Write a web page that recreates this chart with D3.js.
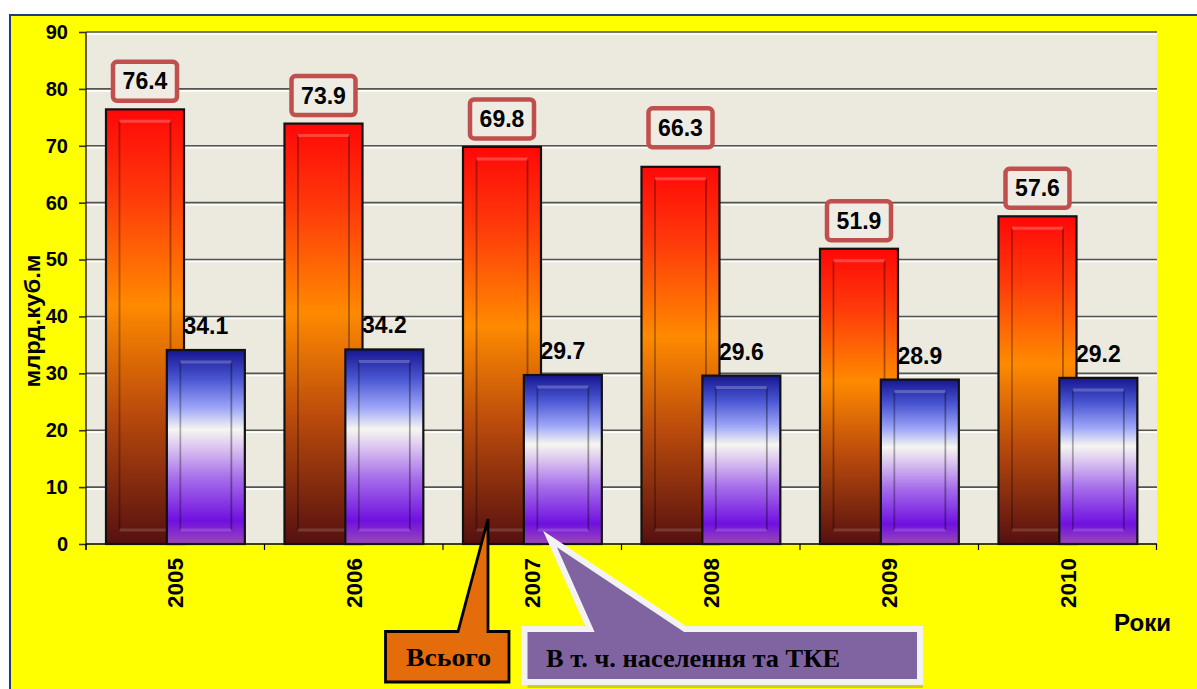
<!DOCTYPE html>
<html><head><meta charset="utf-8">
<script src="https://cdn.jsdelivr.net/npm/d3@7/dist/d3.min.js"></script>
<style>html,body{margin:0;padding:0;background:#fff;overflow:hidden}</style>
</head><body>
<svg id="chart" width="1197" height="689"></svg>
<script>
const years = ["2005","2006","2007","2008","2009","2010"];
const totalValues = [76.4, 73.9, 69.8, 66.3, 51.9, 57.6];
const populationValues = [34.1, 34.2, 29.7, 29.6, 28.9, 29.2];
const yTicks = [0,10,20,30,40,50,60,70,80,90];
const yTitle = "млрд.куб.м";
const xTitle = "Роки";
const calloutTotal = "Всього";
const calloutPop = "В т. ч. населення та ТКЕ";

const svg = d3.select("#chart");
const W = 1197, H = 689;
const plot = {l:86, r:1157, t:32, b:544};
const sans = "Arial, 'Liberation Sans', sans-serif";
const serif = "'Times New Roman', 'Liberation Serif', serif";

// gradients
const defs = svg.append("defs");
const gRed = defs.append("linearGradient").attr("id","gRed").attr("x1",0).attr("y1",0).attr("x2",0).attr("y2",1);
[[0,"#ff0808"],[0.2,"#ff3a0a"],[0.45,"#ff8a00"],[0.7,"#b94a0c"],[1,"#561010"]].forEach(s=>gRed.append("stop").attr("offset",s[0]).attr("stop-color",s[1]));
const gBlue = defs.append("linearGradient").attr("id","gBlue").attr("x1",0).attr("y1",0).attr("x2",0).attr("y2",1);
[[0,"#161690"],[0.15,"#4a56d2"],[0.3,"#9ea6f8"],[0.41,"#f6f6f0"],[0.5,"#dcc6f0"],[0.66,"#a66eea"],[0.88,"#7010e0"],[1,"#9a48b8"]].forEach(s=>gBlue.append("stop").attr("offset",s[0]).attr("stop-color",s[1]));

// frame
svg.append("rect").attr("x",10).attr("y",15).attr("width",W-10).attr("height",H-15).attr("fill","#ffff00");
svg.append("line").attr("x1",9).attr("x2",W).attr("y1",15).attr("y2",15).attr("stroke","#1f3d78").attr("stroke-width",2);
svg.append("line").attr("x1",10).attr("x2",10).attr("y1",14).attr("y2",H).attr("stroke","#1f3d78").attr("stroke-width",2);

// plot background
svg.append("rect").attr("x",plot.l).attr("y",plot.t).attr("width",plot.r-plot.l).attr("height",plot.b-plot.t).attr("fill","#ece9df");

const y = d3.scaleLinear().domain([0,90]).range([plot.b, plot.t]);
const x = d3.scaleBand().domain(years).range([plot.l, plot.r]).paddingInner(0).paddingOuter(0);
const bw = x.bandwidth();
const barW = bw*0.437;
const offRed = bw*0.112;
const offBlue = offRed + barW*0.78;

// gridlines
yTicks.filter(t=>t>0).forEach(t=>{
  svg.append("line").attr("x1",plot.l).attr("x2",plot.r).attr("y1",y(t)+2).attr("y2",y(t)+2).attr("stroke","#ffffff").attr("stroke-width",1.6);
  svg.append("line").attr("x1",plot.l).attr("x2",plot.r).attr("y1",y(t)).attr("y2",y(t)).attr("stroke","#555550").attr("stroke-width",1.6);
});

// y axis
const yAxis = d3.axisLeft(y).tickValues(yTicks).tickSize(7).tickPadding(11).tickFormat(d3.format("d"));
const gy = svg.append("g").attr("transform",`translate(${plot.l},0)`).call(yAxis);
gy.select(".domain").attr("d",`M0,${plot.t}V${plot.b+6}`).attr("stroke","#000").attr("stroke-width",1.2);
gy.selectAll(".tick line").attr("stroke","#333").attr("stroke-width",1.6);
gy.selectAll(".tick text").attr("font-family",sans).attr("font-size",20).attr("font-weight","bold").attr("fill","#000");

// x axis
svg.append("line").attr("x1",plot.l).attr("x2",plot.r).attr("y1",plot.b).attr("y2",plot.b).attr("stroke","#000").attr("stroke-width",1.5);
years.forEach(yr=>{
  svg.append("line").attr("x1",x(yr)).attr("x2",x(yr)).attr("y1",plot.b).attr("y2",plot.b+6).attr("stroke","#000").attr("stroke-width",1.2);
});
svg.append("line").attr("x1",plot.r-0.5).attr("x2",plot.r-0.5).attr("y1",plot.b).attr("y2",plot.b+6).attr("stroke","#000").attr("stroke-width",1.2);

function drawBar(bx, v, fill){
  const top = y(v), h = plot.b - top;
  const g = svg.append("g");
  g.append("rect").attr("x",bx).attr("y",top).attr("width",barW).attr("height",h).attr("fill",fill).attr("stroke","#111").attr("stroke-width",2.2);
  const ix = bx+13.5, iw = barW-27, iy = top+12, ih = h-26;
  if (ih>0){
    g.append("line").attr("x1",ix).attr("x2",ix).attr("y1",iy).attr("y2",iy+ih).attr("stroke","rgba(0,0,0,0.3)").attr("stroke-width",1.8);
    g.append("line").attr("x1",ix+iw).attr("x2",ix+iw).attr("y1",iy).attr("y2",iy+ih).attr("stroke","rgba(0,0,0,0.35)").attr("stroke-width",1.8);
    g.append("line").attr("x1",ix).attr("x2",ix+iw).attr("y1",iy).attr("y2",iy).attr("stroke","rgba(255,255,255,0.22)").attr("stroke-width",3);
    g.append("line").attr("x1",ix).attr("x2",ix+iw).attr("y1",iy+ih).attr("y2",iy+ih).attr("stroke","rgba(255,255,255,0.15)").attr("stroke-width",3);
  }
}

years.forEach((yr,i)=>drawBar(x(yr)+offRed, totalValues[i], "url(#gRed)"));
years.forEach((yr,i)=>drawBar(x(yr)+offBlue, populationValues[i], "url(#gBlue)"));

// labels
years.forEach((yr,i)=>{
  const cx = x(yr)+offRed+barW/2;
  const lift = (yr === "2008") ? 39 : 28;   // the 2008 label sits higher in the original
  const cy = y(totalValues[i]) - lift;
  svg.append("rect").attr("x",cx-32).attr("y",cy-19.5).attr("width",64).attr("height",39).attr("rx",4)
    .attr("fill","#efece4").attr("stroke","#c0504d").attr("stroke-width",4.5);
  svg.append("text").attr("x",cx).attr("y",cy+8).attr("text-anchor","middle")
    .attr("font-family",sans).attr("font-size",23).attr("font-weight","bold").attr("fill","#000")
    .text(totalValues[i].toFixed(1));
  const bx = x(yr)+offBlue+barW/2;
  svg.append("text").attr("x",bx).attr("y",y(populationValues[i])-16).attr("text-anchor","middle")
    .attr("font-family",sans).attr("font-size",23).attr("font-weight","bold").attr("fill","#000")
    .text(populationValues[i].toFixed(1));
});

// x labels
years.forEach(yr=>{
  const cx = x(yr)+bw/2;
  svg.append("text").attr("transform",`translate(${cx},558) rotate(-90)`).attr("text-anchor","end").attr("dy","0.36em")
    .attr("font-family",sans).attr("font-size",22.5).attr("font-weight","bold").attr("fill","#000").text(yr);
});

// titles
svg.append("text").attr("transform","translate(33,321) rotate(-90)").attr("text-anchor","middle").attr("dy","0.3em")
  .attr("font-family",sans).attr("font-size",22).attr("font-weight","bold").attr("fill","#000")
  .attr("textLength",133).attr("lengthAdjust","spacingAndGlyphs").text(yTitle);
svg.append("text").attr("x",1114).attr("y",631).attr("font-family",sans).attr("font-size",23).attr("font-weight","bold").attr("fill","#000")
  .attr("textLength",57).attr("lengthAdjust","spacingAndGlyphs").text(xTitle);

// callouts
svg.append("path").attr("d","M385.5,631.5 L458,631.5 L488,519 L488,631.5 L509,631.5 L509,682 L385.5,682 Z")
  .attr("fill","#e46c0a").attr("stroke","#000").attr("stroke-width",2.8).attr("stroke-linejoin","miter");
svg.append("text").attr("x",406).attr("y",666).attr("font-family",serif).attr("font-size",26).attr("font-weight","bold").attr("fill","#000")
  .attr("textLength",85).attr("lengthAdjust","spacingAndGlyphs").text(calloutTotal);

svg.append("path").attr("d","M527.5,632 L592,632 L552,541 L688,632 L923,632 L923,688 L527.5,688 Z")
  .attr("fill","rgba(120,120,60,0.35)");
svg.append("path").attr("d","M524.5,629 L590,629 L550,539 L685,629 L920,629 L920,682 L524.5,682 Z")
  .attr("fill","#8064a2").attr("stroke","#f2f2f2").attr("stroke-width",6).attr("stroke-linejoin","miter");
svg.append("text").attr("x",546).attr("y",667).attr("font-family",serif).attr("font-size",26).attr("font-weight","bold").attr("fill","#000")
  .attr("textLength",294).attr("lengthAdjust","spacingAndGlyphs").text(calloutPop);
</script>
</body></html>
